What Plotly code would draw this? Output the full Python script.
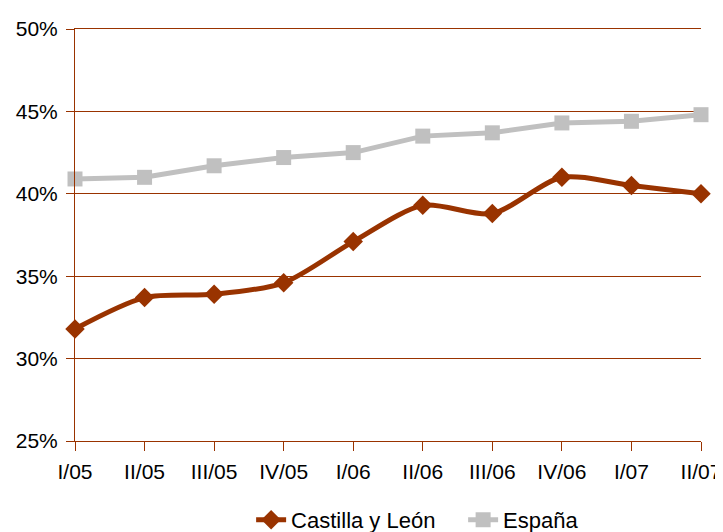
import plotly.graph_objects as go

categories = ["I/05", "II/05", "III/05", "IV/05", "I/06", "II/06", "III/06", "IV/06", "I/07", "II/07"]
castilla = [0.318, 0.337, 0.339, 0.346, 0.371, 0.393, 0.388, 0.410, 0.405, 0.400]
espana = [0.409, 0.410, 0.417, 0.422, 0.425, 0.435, 0.437, 0.443, 0.444, 0.448]
y_ticks = [0.25, 0.30, 0.35, 0.40, 0.45, 0.50]

FONT = "Liberation Sans Narrow, Arial Narrow, Liberation Sans, Arial, sans-serif"
BROWN = "#993300"
GREY = "#C0C0C0"

xs = list(range(len(categories)))

fig = go.Figure()
fig.add_trace(go.Scatter(
    x=xs, y=espana, name="España", mode="lines+markers",
    line=dict(color=GREY, width=5),
    marker=dict(symbol="square", size=15, color=GREY),
    cliponaxis=False,
))
fig.add_trace(go.Scatter(
    x=xs, y=castilla, name="Castilla y León", mode="lines+markers",
    line=dict(color=BROWN, width=5, shape="spline", smoothing=0.8),
    marker=dict(symbol="diamond", size=15, color=BROWN),
    cliponaxis=False,
))

# page body has an 8px margin, so the figure is sized/offset to compensate
fig.update_layout(
    width=715, height=524,
    margin=dict(l=67, r=22, t=21, b=91),
    paper_bgcolor="white", plot_bgcolor="white",
    font=dict(family=FONT, size=21, color="black"),
    showlegend=True,
    legend=dict(orientation="h", xref="paper", x=0.62, xanchor="center",
                yref="container", y=0.023, yanchor="middle",
                font=dict(size=22), traceorder="reversed",
                entrywidth=167, entrywidthmode="pixels"),
)
fig.update_xaxes(
    range=[0, len(categories) - 1], tickvals=xs, ticktext=categories,
    showgrid=False, zeroline=False, showline=True, linecolor=BROWN, linewidth=1,
    mirror=True, automargin=False,
    ticks="outside", ticklen=9, tickcolor=BROWN, tickwidth=1,
    ticklabelstandoff=3,
)
fig.update_yaxes(
    range=[0.25, 0.50], tickvals=y_ticks, tickformat=".0%",
    showgrid=True, gridcolor=BROWN, gridwidth=1, zeroline=False,
    showline=True, linecolor=BROWN, linewidth=1, automargin=False,
    ticks="outside", ticklen=8, tickcolor=BROWN, tickwidth=1,
    ticklabelstandoff=4,
)

fig.write_html("out.html")
